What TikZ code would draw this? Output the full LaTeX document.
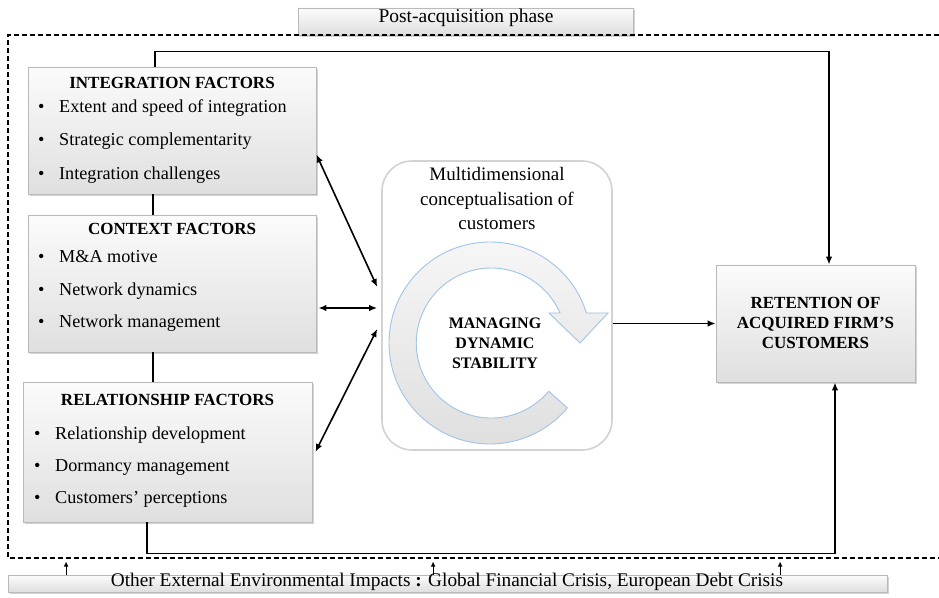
\documentclass[tikz,border=0pt]{standalone}
\usepackage{fontspec}
\setmainfont{Liberation Serif}
\usetikzlibrary{shadows,arrows.meta,calc}
\definecolor{ringedge}{RGB}{160,196,230}
\begin{document}
\begin{tikzpicture}[x=1pt,y=1pt,
  panel/.style={draw=gray!55, line width=0.8pt, top color=gray!3, bottom color=gray!25,
    drop shadow={opacity=0.35, shadow xshift=1.5pt, shadow yshift=-2pt},
    inner sep=0pt, minimum width=#1},
  ttl/.style={font=\fontsize{17}{20}\selectfont\bfseries, anchor=mid, inner sep=0pt},
  itm/.style={font=\fontsize{18.2}{22}\selectfont, anchor=mid west, inner sep=0pt},
  tip/.style={Latex[length=8pt,width=6.5pt]},
  link/.style={line width=1.6pt, -{Latex[length=8pt,width=6.5pt]}},
  both/.style={line width=1.6pt, {Latex[length=8pt,width=6.5pt]}-{Latex[length=8pt,width=6.5pt]}},
  tie/.style={line width=1.6pt},
  small/.style={line width=1.2pt, -{Latex[length=5pt,width=5pt]}},
  frame/.style={line width=1.3pt, dash pattern=on 5pt off 3pt},
]
\useasboundingbox (0,0) rectangle (939,597);

% phase label on top of the dashed frame
\node[panel=335pt, minimum height=27pt, drop shadow={opacity=0}] (phase) at (465.5,575.5) {};
\node[font=\fontsize{19.5}{22}\selectfont, inner sep=0pt, anchor=mid] (phasetxt) at (466,577) {Post-acquisition phase};

% dashed frame of the post-acquisition phase
\draw[frame] (939,562) -- (8,562) -- (8,39) -- (939,39);

% factor boxes on the left
\node[panel=288pt, minimum height=127pt] (integ) at (172,466.5) {};
\node[ttl] (integt) at (172,511) {INTEGRATION FACTORS};
\node[itm] (intega) at (38,487) {\makebox[21pt][l]{•}Extent and speed of integration};
\node[itm] (integb) at (38,454) {\makebox[21pt][l]{•}Strategic complementarity};
\node[itm] (integc) at (38,420) {\makebox[21pt][l]{•}Integration challenges};

\node[panel=288pt, minimum height=137pt] (ctx) at (172,313.5) {};
\node[ttl] (ctxt) at (172,365) {CONTEXT FACTORS};
\node[itm] (ctxa) at (38,337) {\makebox[21pt][l]{•}M\&A motive};
\node[itm] (ctxb) at (38,304) {\makebox[21pt][l]{•}Network dynamics};
\node[itm] (ctxc) at (38,272) {\makebox[21pt][l]{•}Network management};

\node[panel=289pt, minimum height=140pt] (rel) at (167.5,145) {};
\node[ttl] (relt) at (167.5,194) {RELATIONSHIP FACTORS};
\node[itm] (rela) at (34,160) {\makebox[21pt][l]{•}Relationship development};
\node[itm] (relb) at (34,128) {\makebox[21pt][l]{•}Dormancy management};
\node[itm] (relc) at (34,96) {\makebox[21pt][l]{•}Customers’ perceptions};

% links between the factor boxes
\draw[tie] ([xshift=-19pt]integ.south) -- ([xshift=-19pt]integ.south |- ctx.north);
\draw[tie] ([xshift=-19pt]ctx.south) -- ([xshift=-19pt]ctx.south |- rel.north);

% central panel
\node[draw=gray!35, line width=1.6pt, rounded corners=30pt, fill=white,
      minimum width=230pt, minimum height=289pt, inner sep=0pt] (core) at (497,291.5) {};
\node[font=\fontsize{19}{24.5}\selectfont, align=center, inner sep=0pt, anchor=center] (coret) at (497,398)
  {Multidimensional\\conceptualisation of\\customers};

% circular arrow
\draw[ringedge, line width=0.9pt, top color=gray!6, bottom color=gray!26]
  (490,254) ++(-40:101) arc[start angle=-40, end angle=-342.7, radius=101]
  -- (608,284) -- (580,254) -- (549,284) -- (560,284)
  arc[start angle=-336.4, end angle=-40, radius=75] -- cycle;
\node[font=\fontsize{16}{20}\selectfont\bfseries, align=center, inner sep=0pt, anchor=center] (mds) at (495,254)
  {MANAGING\\DYNAMIC\\STABILITY};

% outcome box
\node[panel=199pt, minimum height=117pt] (ret) at (815.5,273.5) {};
\node[font=\fontsize{17}{20}\selectfont\bfseries, align=center, inner sep=0pt, anchor=center] (rett) at (815.5,274)
  {RETENTION OF\\ACQUIRED FIRM’S\\CUSTOMERS};

% arrows between factors and the central panel
\draw[both] ([yshift=-24pt]integ.east) -- ([xshift=-4pt,yshift=18.5pt]core.west);
\draw[both] ([xshift=2pt,yshift=-24.5pt]ctx.east) -- ([xshift=-4pt,yshift=-2.5pt]core.west);
\draw[both] ([xshift=3pt]rel.east) -- ([xshift=-4pt,yshift=-23.5pt]core.west);
\draw[link] (core.east |- ret.west) -- (ret.west);

% feedback paths to the outcome box
\draw[link] ([xshift=-17pt]integ.north) -- ++(0,15) -| ([xshift=13.5pt]ret.north);
\draw[link] ([xshift=-20.5pt]rel.south) -- ++(0,-31) -| ([xshift=19.5pt]ret.south);

% external impacts bar
\node[panel=879pt, minimum height=17pt] (ext) at (447.5,13.5) {};
\node[font=\fontsize{19.3}{22}\selectfont, inner sep=0pt, anchor=mid] (extt) at (447,13)
  {Other External Environmental Impacts \textbf{:} Global Financial Crisis, European Debt Crisis};
\draw[small] ([xshift=58.5pt]ext.north west) -- ++(0,13);
\draw[small] ([xshift=425.5pt]ext.north west) -- ++(0,13);
\draw[small] ([xshift=772.5pt]ext.north west) -- ++(0,13);
\end{tikzpicture}
\end{document}
